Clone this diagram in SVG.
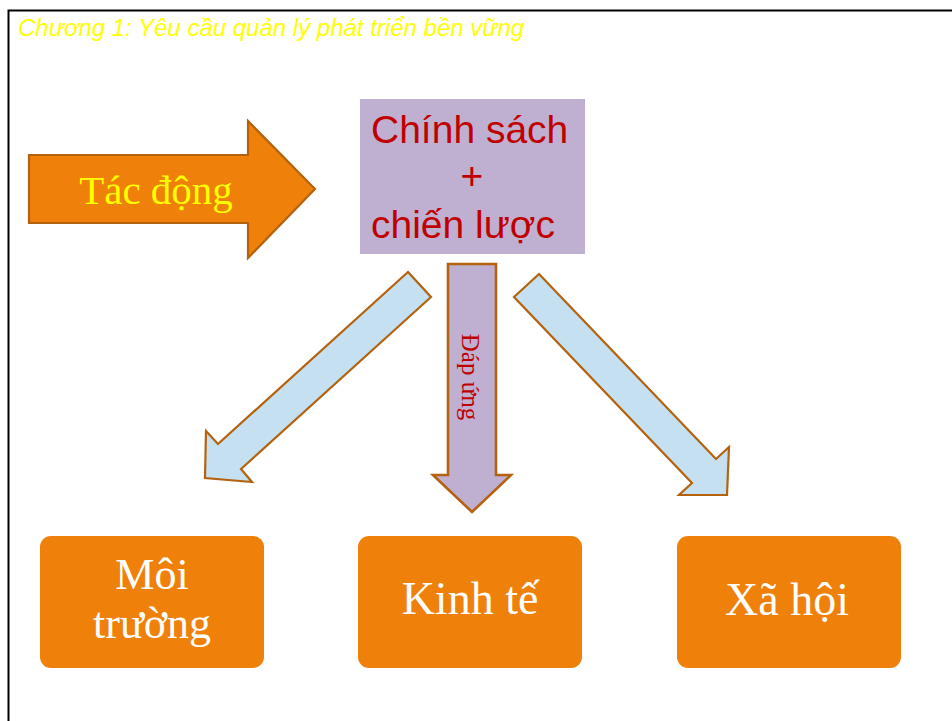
<svg xmlns="http://www.w3.org/2000/svg" width="952" height="721" viewBox="0 0 952 721">
<style>
.arrowstroke{stroke:#B5620F;stroke-width:2.2;stroke-linejoin:miter}
.blue{fill:#C5E1F1}
.purple{fill:#BFAFD0}
.orange{fill:#EF800A}
.serif{font-family:"Liberation Serif","DejaVu Serif",serif}
.sans{font-family:"Liberation Sans",Arial,sans-serif}
.boxtext{fill:#FFFFFF;font-size:46px;text-anchor:middle}
.red{fill:#C00000}
</style>
<rect x="0" y="0" width="952" height="721" fill="#FFFFFF"/>
<path d="M8.5,721 V10.5 H952" fill="none" stroke="#000000" stroke-width="2"/>
<text x="18" y="36" class="sans" font-size="24" font-style="italic" fill="#FFFF00">Chương 1: Yêu cầu quản lý phát triển bền vững</text>

<g id="tac-dong">
<polygon class="orange arrowstroke" points="29,155 248,155 248,121 315,189 248,258 248,223 29,223"/>
<text x="156" y="204" class="serif" font-size="41" fill="#FFFF00" text-anchor="middle">Tác động</text>
</g>

<g id="chinh-sach">
<rect x="360" y="99" width="225" height="155" class="purple"/>
<text x="371" y="143" class="sans red" font-size="39">Chính sách</text>
<text x="472" y="189" class="sans red" font-size="39" text-anchor="middle">+</text>
<text x="371" y="238" class="sans red" font-size="39">chiến lược</text>
</g>

<g id="connectors">
<polygon class="blue arrowstroke" points="408,272 431,297 241,469 252,482 205,478 206,431 218,444"/>
<g id="dap-ung">
<polygon class="purple arrowstroke" style="stroke-width:2.6" points="448,264 496,264 496,475 511,475 472,512 433,475 448,475"/>
<text transform="translate(462,377) rotate(90)" class="serif red" font-size="25" text-anchor="middle">Đáp ứng</text>
</g>
<polygon class="blue arrowstroke" points="539,274 716,459 729,447 727,495 679,495 692,483 514,297"/>
</g>

<g id="moi-truong">
<rect x="40" y="536" width="224" height="132" rx="11" class="orange"/>
<text x="152" y="589" class="serif boxtext" style="font-size:44px">Môi</text>
<text x="152" y="638" class="serif boxtext" style="font-size:44px">trường</text>
</g>
<g id="kinh-te">
<rect x="358" y="536" width="224" height="132" rx="11" class="orange"/>
<text x="470" y="614" class="serif boxtext">Kinh tế</text>
</g>
<g id="xa-hoi">
<rect x="677" y="536" width="224" height="132" rx="11" class="orange"/>
<text x="787" y="615" class="serif boxtext">Xã hội</text>
</g>
</svg>
